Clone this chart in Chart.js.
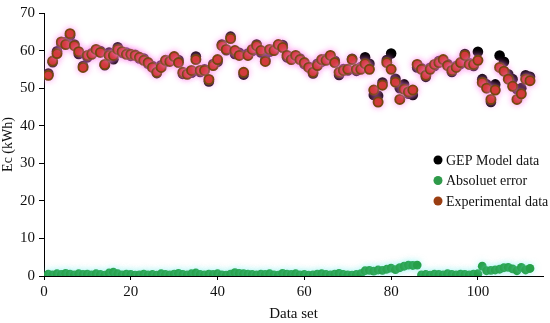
<!DOCTYPE html>
<html>
<head>
<meta charset="utf-8">
<script src="https://cdn.jsdelivr.net/npm/chart.js@4"></script>
<style>
  html, body { margin: 0; padding: 0; background: #fff; }
  #wrap { width: 550px; height: 323px; }
</style>
</head>
<body>
<div id="wrap"><canvas id="c" width="550" height="323"></canvas></div>
<script>
// values, data set 1..112
const gepModel = [
  53.9, 56.9, 59.8, 61.9, 62.3, 64.0, 61.6, 59.1, 55.9, 58.2,
  59.3, 59.7, 59.9, 56.1, 59.5, 57.7, 60.9, 59.4, 59.5, 58.6,
  58.9, 57.9, 57.9, 56.5, 55.9, 54.0, 56.1, 57.0, 57.4, 57.9,
  57.5, 53.8, 54.0, 54.1, 58.4, 54.3, 55.0, 51.8, 56.4, 57.0,
  61.6, 60.1, 63.7, 59.1, 59.4, 53.6, 59.2, 59.9, 61.6, 59.5,
  57.5, 59.7, 60.3, 61.4, 61.5, 58.2, 58.0, 58.1, 57.9, 56.4,
  55.7, 53.9, 56.5, 57.0, 57.8, 58.4, 57.3, 53.5, 55.1, 54.7,
  57.8, 54.6, 55.6, 58.2, 56.5, 48.2, 48.0, 51.5, 57.5, 59.2,
  52.5, 50.0, 51.0, 48.5, 48.2, 55.5, 55.3, 53.0, 55.4, 55.9,
  57.2, 57.2, 56.4, 54.3, 55.9, 56.4, 59.1, 56.7, 55.9, 59.7,
  52.4, 51.0, 46.3, 51.0, 58.7, 57.0, 53.7, 52.4, 49.7, 50.0,
  53.4, 53.0
];

const absError = [
  0.5, 0.3, 0.6, 0.4, 0.7, 0.5, 0.3, 0.6, 0.4, 0.5,
  0.3, 0.6, 0.4, 0.2, 0.8, 1.0, 0.6, 0.3, 0.5, 0.4,
  0.2, 0.3, 0.5, 0.3, 0.4, 0.2, 0.6, 0.4, 0.3, 0.5,
  0.7, 0.4, 0.3, 0.6, 0.8, 0.4, 0.3, 0.5, 0.4, 0.6,
  0.3, 0.2, 0.5, 0.9, 0.7, 0.6, 0.5, 0.4, 0.3, 0.5,
  0.4, 0.6, 0.3, 0.2, 0.7, 0.5, 0.4, 0.6, 0.3, 0.4,
  0.2, 0.3, 0.5, 0.6, 0.4, 0.3, 0.5, 0.7, 0.4, 0.3,
  0.2, 0.4, 0.6, 1.4, 1.5, 1.3, 1.6, 1.5, 1.8, 2.1,
  1.7, 2.2, 2.6, 2.9, 2.8, 2.9, 0.3, 0.4, 0.2, 0.5,
  0.4, 0.3, 0.6, 0.4, 0.3, 0.5, 0.4, 0.3, 0.5, 0.6,
  2.6, 1.4, 1.5, 1.6, 1.8, 2.2, 2.3, 1.9, 1.4, 2.3,
  1.6, 2.0
];

const experimental = [
  53.4, 57.2, 59.2, 62.3, 61.6, 64.5, 61.3, 59.7, 55.5, 58.7,
  59.0, 60.3, 59.5, 56.3, 58.7, 58.7, 60.3, 59.7, 59.0, 59.0,
  58.7, 58.2, 57.4, 56.8, 55.5, 54.2, 55.5, 57.4, 57.1, 58.4,
  56.8, 54.2, 53.7, 54.7, 57.6, 54.7, 54.7, 52.3, 56.0, 57.6,
  61.3, 60.3, 63.2, 60.0, 58.7, 54.2, 58.7, 60.3, 61.3, 60.0,
  57.1, 60.3, 60.0, 61.6, 60.8, 58.7, 57.6, 58.7, 57.6, 56.8,
  55.5, 54.2, 56.0, 57.6, 57.4, 58.7, 56.8, 54.2, 54.7, 55.0,
  57.6, 55.0, 55.0, 56.5, 55.0, 49.5, 46.3, 50.8, 56.8, 55.0,
  51.6, 47.0, 49.7, 49.0, 49.5, 56.3, 55.0, 53.4, 55.0, 56.3,
  56.8, 57.6, 56.0, 54.7, 55.5, 56.8, 58.7, 56.3, 56.3, 57.4,
  51.5, 50.0, 47.0, 49.5, 55.5, 54.5, 52.4, 50.5, 47.0, 48.5,
  52.4, 52.0
];

const seriesNames = ['GEP Model data', 'Absoluet error', 'Experimental data'];
const xTicks = [0, 20, 40, 60, 80, 100];
const yTicks = [0, 10, 20, 30, 40, 50, 60, 70];

const FONT = "'Liberation Serif', 'DejaVu Serif', serif";

// turn a value list into {x, y} points, x = data set number
function toPoints(arr) {
  return arr.map((v, i) => ({ x: i + 1, y: v }));
}

// soft glow behind the markers, like the office-style effect in the picture
const glowPlugin = {
  id: 'glow',
  beforeDatasetDraw(chart, args) {
    const ds = chart.data.datasets[args.index];
    if (!ds.glow) return;
    chart.ctx.save();
    chart.ctx.shadowColor = ds.glow;
    chart.ctx.shadowBlur = 6;
  },
  afterDatasetDraw(chart, args) {
    const ds = chart.data.datasets[args.index];
    if (!ds.glow) return;
    chart.ctx.restore();
  }
};

// legend sits inside the plot on the right
const legendPlugin = {
  id: 'innerLegend',
  afterDraw(chart) {
    const ctx = chart.ctx;
    const x0 = 438, y0 = 160, gap = 20.5;
    ctx.save();
    ctx.font = '14px ' + FONT;
    ctx.textBaseline = 'middle';
    ctx.textAlign = 'left';
    chart.data.datasets.forEach((ds, i) => {
      const y = y0 + i * gap;
      ctx.beginPath();
      ctx.arc(x0, y, 4.5, 0, Math.PI * 2);
      ctx.fillStyle = ds.legendColor;
      ctx.fill();
      ctx.fillStyle = '#111';
      ctx.fillText(ds.label, x0 + 8, y + 1);
    });
    ctx.restore();
  }
};

const ctx = document.getElementById('c').getContext('2d');
new Chart(ctx, {
  type: 'scatter',
  data: {
    datasets: [
      {
        label: seriesNames[0],
        data: toPoints(gepModel),
        backgroundColor: '#000000',
        borderColor: '#000000',
        pointRadius: 5.3,
        borderWidth: 0,
        legendColor: '#000000',
        order: 2
      },
      {
        label: seriesNames[1],
        data: toPoints(absError),
        backgroundColor: '#27a048',
        borderColor: '#27a048',
        pointRadius: 4.4,
        borderWidth: 0,
        glow: 'rgba(120,240,240,0.5)',
        legendColor: '#2f9a4a',
        order: 3
      },
      {
        label: seriesNames[2],
        data: toPoints(experimental),
        backgroundColor: '#c82a0e',
        borderColor: '#74460f',
        pointRadius: 4.6,
        borderWidth: 1.8,
        glow: 'rgba(255,130,235,0.75)',
        legendColor: '#9a3e12',
        order: 1
      }
    ]
  },
  options: {
    responsive: false,
    animation: false,
    layout: { padding: { top: 10, right: 7, left: 0, bottom: 0 } },
    plugins: {
      legend: { display: false },
      tooltip: { enabled: false }
    },
    scales: {
      x: {
        type: 'linear',
        min: 0,
        max: 115,
        afterBuildTicks: (axis) => { axis.ticks = xTicks.map(v => ({ value: v })); },
        afterFit: (scale) => { scale.height = 47; },
        border: { color: '#000', width: 1 },
        grid: { display: true, drawOnChartArea: false, drawTicks: true, tickLength: 4, color: '#000' },
        ticks: { color: '#111', font: { family: FONT, size: 15 }, padding: 3, maxRotation: 0 },
        title: { display: true, text: 'Data set', color: '#111', font: { family: FONT, size: 15 }, padding: { top: 1, bottom: 0 } }
      },
      y: {
        min: 0,
        max: 70,
        afterBuildTicks: (axis) => { axis.ticks = yTicks.map(v => ({ value: v })); },
        afterFit: (scale) => { scale.width = 44; },
        border: { color: '#000', width: 1 },
        grid: { display: true, drawOnChartArea: false, drawTicks: true, tickLength: 5, color: '#000' },
        ticks: { color: '#111', font: { family: FONT, size: 15 }, padding: 4 },
        title: { display: true, text: 'Ec (kWh)', color: '#111', font: { family: FONT, size: 14 }, padding: { top: 0, bottom: 1 } }
      }
    }
  },
  plugins: [glowPlugin, legendPlugin]
});
</script>
</body>
</html>
